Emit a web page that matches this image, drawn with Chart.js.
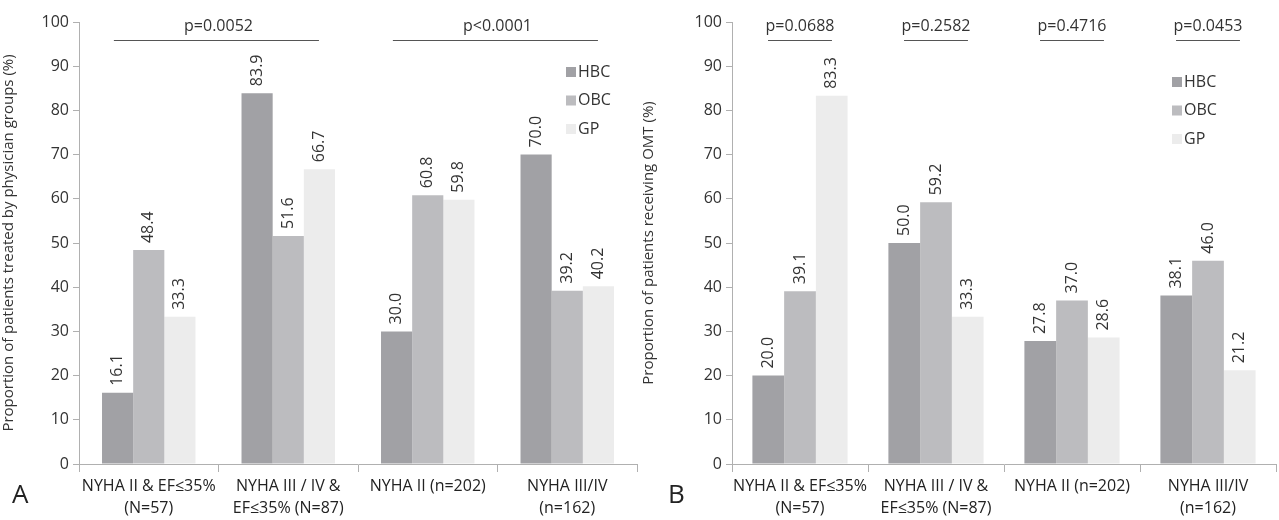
<!DOCTYPE html>
<html>
<head>
<meta charset="utf-8">
<script src="https://cdn.jsdelivr.net/npm/chart.js@4"></script>
<style>
  body { margin: 0; background: #fff; }
  .panel { position: absolute; top: 0; height: 520px; }
</style>
</head>
<body>
<div class="panel" style="left:0;width:640px"><canvas id="chart-a" width="640" height="520"></canvas></div>
<div class="panel" style="left:640px;width:639px"><canvas id="chart-b" width="639" height="520"></canvas></div>
<script>
const categories = [
  ['NYHA II & EF≤35%', '(N=57)'],
  ['NYHA III / IV &', 'EF≤35% (N=87)'],
  ['NYHA II (n=202)'],
  ['NYHA III/IV', '(n=162)']
];
const seriesNames = ['HBC', 'OBC', 'GP'];
const seriesColors = ['#a1a1a5', '#bcbcbf', '#ececec'];

// panel A: treated by physician groups
const hbcA = [16.1, 83.9, 30.0, 70.0];
const obcA = [48.4, 51.6, 60.8, 39.2];
const gpA = [33.3, 66.7, 59.8, 40.2];
const pValuesA = [
  { from: 0, to: 1, text: 'p=0.0052' },
  { from: 2, to: 3, text: 'p<0.0001' }
];

// panel B: receiving OMT
const hbcB = [20.0, 50.0, 27.8, 38.1];
const obcB = [39.1, 59.2, 37.0, 46.0];
const gpB = [83.3, 33.3, 28.6, 21.2];
const pValuesB = [
  { from: 0, to: 0, text: 'p=0.0688' },
  { from: 1, to: 1, text: 'p=0.2582' },
  { from: 2, to: 2, text: 'p=0.4716' },
  { from: 3, to: 3, text: 'p=0.0453' }
];

const yTicks = [0, 10, 20, 30, 40, 50, 60, 70, 80, 90, 100];
const FONT = "'Open Sans', sans-serif";

// value labels above bars, rotated
const barLabels = {
  id: 'barLabels',
  afterDatasetsDraw(chart) {
    const ctx = chart.ctx;
    ctx.save();
    ctx.font = '16px ' + FONT;
    ctx.fillStyle = '#333';
    ctx.textAlign = 'left';
    ctx.textBaseline = 'middle';
    chart.data.datasets.forEach((ds, i) => {
      chart.getDatasetMeta(i).data.forEach((bar, j) => {
        ctx.save();
        ctx.translate(bar.x, bar.y - 7);
        ctx.rotate(-Math.PI / 2);
        ctx.fillText(ds.data[j].toFixed(1), 0, 0);
        ctx.restore();
      });
    });
    ctx.restore();
  }
};

// p-value brackets, legend, panel letter
const extras = {
  id: 'extras',
  afterDraw(chart, args, opts) {
    const ctx = chart.ctx;
    const x = chart.scales.x;
    const w = x.getPixelForValue(1) - x.getPixelForValue(0);
    ctx.save();
    ctx.font = '16px ' + FONT;
    ctx.fillStyle = '#333';
    ctx.strokeStyle = '#555';
    ctx.lineWidth = 1;
    opts.pValues.forEach(p => {
      const left = x.getPixelForValue(p.from) - opts.pLeft * w;
      const right = x.getPixelForValue(p.to) + opts.pRight * w;
      ctx.beginPath();
      ctx.moveTo(left, 40.5);
      ctx.lineTo(right, 40.5);
      ctx.stroke();
      ctx.textAlign = 'center';
      ctx.textBaseline = 'middle';
      ctx.fillText(p.text, (x.getPixelForValue(p.from) + x.getPixelForValue(p.to)) / 2, 26);
    });
    // legend
    chart.data.datasets.forEach((ds, i) => {
      const ly = opts.legendY + i * 28.5;
      ctx.fillStyle = ds.backgroundColor;
      ctx.fillRect(opts.legendX, ly - 5, 10, 10);
      ctx.fillStyle = '#333';
      ctx.textAlign = 'left';
      ctx.fillText(ds.label, opts.legendX + 12, ly);
    });
    // panel letter
    ctx.font = '26px ' + FONT;
    ctx.fillStyle = '#222';
    ctx.textAlign = 'left';
    ctx.fillText(opts.letter, opts.letterX, 496);
    ctx.restore();
  }
};

function makeChart(id, values, title, pValues, cfg) {
  return new Chart(document.getElementById(id), {
    type: 'bar',
    data: {
      labels: categories,
      datasets: values.map((v, i) => ({
        label: seriesNames[i],
        data: v,
        backgroundColor: seriesColors[i],
        borderWidth: 0,
        barPercentage: 1,
        categoryPercentage: cfg.catPct
      }))
    },
    options: {
      responsive: false,
      animation: false,
      layout: { padding: { top: 22, right: 3, left: 0, bottom: 0 } },
      plugins: {
        legend: { display: false },
        tooltip: { enabled: false },
        extras: {
          pValues: pValues,
          pLeft: cfg.pLeft, pRight: cfg.pRight,
          legendX: cfg.legendX, legendY: cfg.legendY,
          letter: cfg.letter, letterX: cfg.letterX
        }
      },
      scales: {
        x: {
          grid: { offset: true, drawOnChartArea: false, drawTicks: true, tickLength: 8, color: '#b0b0b0' },
          border: { color: '#b0b0b0' },
          ticks: { color: '#222', font: { family: FONT, size: 16, lineHeight: 1.4 }, padding: 3, maxRotation: 0, autoSkip: false },
          afterFit(s) { s.height = 56; }
        },
        y: {
          min: 0, max: 100,
          afterBuildTicks(s) { s.ticks = yTicks.map(v => ({ value: v })); },
          grid: { drawOnChartArea: false, drawTicks: true, tickLength: 6, color: '#b0b0b0' },
          border: { color: '#b0b0b0' },
          ticks: { color: '#333', font: { family: FONT, size: 16 }, padding: 4 },
          title: { display: true, text: title, color: '#333', font: { family: FONT, size: 15 }, padding: 0 },
          afterFit(s) { s.width = cfg.yWidth; }
        }
      }
    },
    plugins: [barLabels, extras]
  });
}

makeChart('chart-a', [hbcA, obcA, gpA], 'Proportion of patients treated by physician groups (%)', pValuesA, {
  catPct: 0.67, pLeft: 0.25, pRight: 0.22, legendX: 566, legendY: 72,
  letter: 'A', letterX: 12, yWidth: 79
});
makeChart('chart-b', [hbcB, obcB, gpB], 'Proportion of patients receiving OMT (%)', pValuesB, {
  catPct: 0.70, pLeft: 0.235, pRight: 0.235, legendX: 532, legendY: 82,
  letter: 'B', letterX: 28, yWidth: 92
});
</script>
</body>
</html>
